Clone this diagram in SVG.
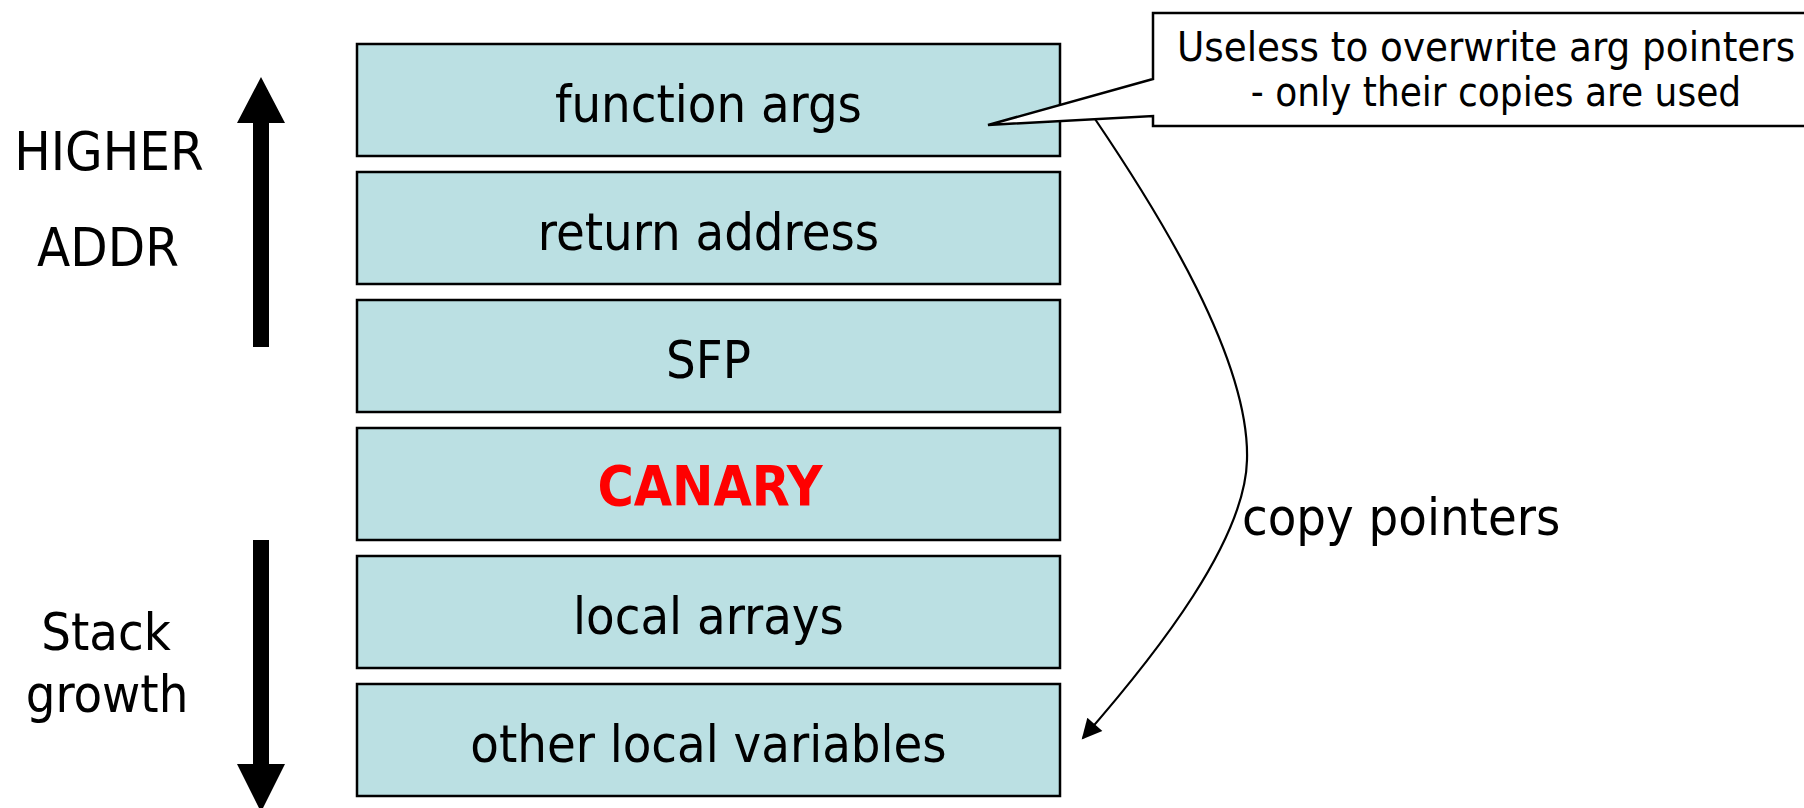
<svg xmlns="http://www.w3.org/2000/svg" width="1804" height="808" viewBox="0 0 1804 808">
  <style>
    .txt { font-family: "DejaVu Sans Condensed", "DejaVu Sans", sans-serif; font-stretch: condensed; fill: #000; }
    .frame rect { fill: #BBE0E3; stroke: #000; stroke-width: 2.5; }
    .frame text { font-size: 52px; text-anchor: middle; }
    .frame text.canary { fill: #FF0000; font-weight: bold; font-size: 55px; }
    .side { font-size: 54px; text-anchor: middle; }
    .side-sm { font-size: 52px; text-anchor: middle; }
  </style>
  <defs>
    <marker id="arrowhead" viewBox="0 0 10 10" refX="9" refY="5" markerWidth="24" markerHeight="20" markerUnits="userSpaceOnUse" orient="auto">
      <path d="M0,0 L10,5 L0,10 Z" fill="#000"/>
    </marker>
  </defs>

  <!-- direction arrows and their captions -->
  <g id="higher-addr">
    <polygon points="253,347 269,347 269,123 285,123 261,77 237,123 253,123" fill="#000"/>
    <text class="txt side" x="109" y="170">HIGHER</text>
    <text class="txt side" x="108" y="266">ADDR</text>
  </g>
  <g id="stack-growth">
    <polygon points="253,540 269,540 269,764 285,764 261,812 237,764 253,764" fill="#000"/>
    <text class="txt side-sm" x="106" y="650">Stack</text>
    <text class="txt side-sm" x="107" y="712">growth</text>
  </g>

  <!-- stack frame slots, highest address on top -->
  <g id="slot-function-args" class="frame">
    <rect x="357" y="44" width="703" height="112"/>
    <text class="txt" x="708.5" y="122">function args</text>
  </g>
  <g id="slot-return-address" class="frame">
    <rect x="357" y="172" width="703" height="112"/>
    <text class="txt" x="708.5" y="250">return address</text>
  </g>
  <g id="slot-sfp" class="frame">
    <rect x="357" y="300" width="703" height="112"/>
    <text class="txt" x="708.5" y="378">SFP</text>
  </g>
  <g id="slot-canary" class="frame">
    <rect x="357" y="428" width="703" height="112"/>
    <text class="txt canary" x="710" y="505">CANARY</text>
  </g>
  <g id="slot-local-arrays" class="frame">
    <rect x="357" y="556" width="703" height="112"/>
    <text class="txt" x="708.5" y="634">local arrays</text>
  </g>
  <g id="slot-other-locals" class="frame">
    <rect x="357" y="684" width="703" height="112"/>
    <text class="txt" x="708.5" y="762">other local variables</text>
  </g>

  <!-- callout note -->
  <g id="note">
    <path d="M1153,13 H1822 V126 H1153 V116 L988,125 L1153,79 Z" fill="#FFFFFF" stroke="#000" stroke-width="2.5" stroke-linejoin="miter"/>
    <text class="txt" x="1486" y="61" font-size="41.5" text-anchor="middle">Useless to overwrite arg pointers</text>
    <text class="txt" x="1496" y="106" font-size="40" text-anchor="middle">- only their copies are used</text>
  </g>

  <!-- connector: arguments copied into locals -->
  <g id="connectors">
    <path d="M1095,119 C1160,215 1250,360 1247,460 C1245,540 1160,650 1083,738" fill="none" stroke="#000" stroke-width="2.2" marker-end="url(#arrowhead)"/>
  </g>
  <g id="copy-label">
    <text class="txt" x="1242" y="535" font-size="52">copy pointers</text>
  </g>
</svg>
